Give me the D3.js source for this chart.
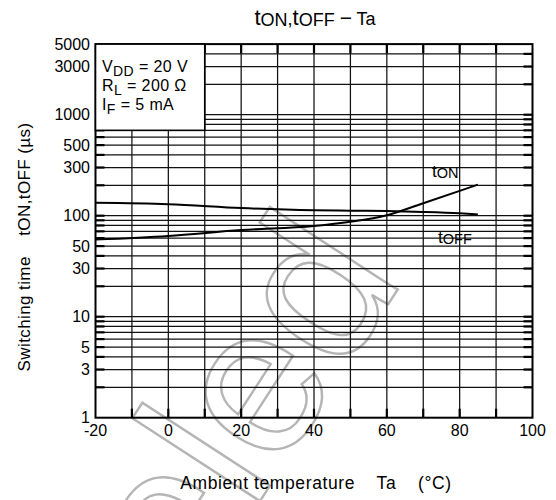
<!DOCTYPE html>
<html>
<head>
<meta charset="utf-8">
<script src="https://cdn.jsdelivr.net/npm/d3@7"></script>
<style>
  html, body { margin: 0; padding: 0; background: #fff; }
  svg { display: block; font-family: "Liberation Sans", Arial, sans-serif; }
</style>
</head>
<body>
<svg id="chart" width="556" height="500"></svg>
<script>
// Ambient temperature (°C) sample points
const temps = [-20, 0, 20, 40, 50, 60, 70, 80, 85];
// Turn-on time t_ON (µs)
const tOn = [58, 63, 72, 79, 87, 101, 133, 176, 203];
// Turn-off time t_OFF (µs)
const tOff = [134, 130, 119, 113, 112, 111, 109, 105.7, 103];

// Axis tick labels
const xTickLabels = [-20, 0, 20, 40, 60, 80, 100];
const yTickLabels = [1, 3, 5, 10, 30, 50, 100, 300, 500, 1000, 3000, 5000];
// Grid: every 10 °C and every 1..9 x decade
const xGrid = [-10, 0, 10, 20, 30, 40, 50, 60, 70, 80, 90];
const yGridMultipliers = [1, 2, 3, 4, 5, 6, 7, 8, 9];
const yDecades = [1, 10, 100, 1000];

// Test conditions shown in the box
const conditions = [
  [["V", ""], ["DD", "sub"], [" = 20 V", ""]],
  [["R", ""], ["L", "sub"], [" = 200 Ω", ""]],
  [["I", ""], ["F", "sub"], [" = 5 mA", ""]]
];

const svg = d3.select("#chart");
svg.append("rect").attr("width", 556).attr("height", 500).attr("fill", "#fff");

const x = d3.scaleLinear().domain([-20, 100]).range([95.5, 532.5]);
const y = d3.scaleLog().domain([1, 5000]).range([417.7, 417.7 - 101 * Math.log10(5000)]);

const x0 = x(-20), x1 = x(100), y0 = y(1), y1 = y(5000);

// background watermark lettering
svg.append("text")
  .attr("transform", "translate(405,278) rotate(-57)")
  .attr("text-anchor", "end")
  .attr("font-size", 210)
  .attr("fill", "none")
  .attr("stroke", "#b5b5b5")
  .attr("stroke-width", 2.4)
  .text("Canceled");

// grid
const grid = svg.append("g").attr("stroke", "#111").attr("stroke-width", 1.25);
const yGrid = [];
yDecades.forEach(d => yGridMultipliers.forEach(m => { const v = d * m; if (v > 1 && v < 5000) yGrid.push(v); }));

grid.selectAll("line.h").data(yGrid).join("line")
  .attr("x1", x0).attr("x2", x1)
  .attr("y1", d => y(d)).attr("y2", d => y(d));
grid.selectAll("line.v").data(xGrid).join("line")
  .attr("x1", d => x(d)).attr("x2", d => x(d))
  .attr("y1", y0).attr("y2", y1);

// inner ticks (heavier stubs at the frame)
const ticks = svg.append("g").attr("stroke", "#000").attr("stroke-width", 2.2);
ticks.selectAll("line.l").data(yGrid).join("line")
  .attr("x1", x0).attr("x2", x0 + 9).attr("y1", d => y(d)).attr("y2", d => y(d));
ticks.selectAll("line.r").data(yGrid).join("line")
  .attr("x1", x1 - 9).attr("x2", x1).attr("y1", d => y(d)).attr("y2", d => y(d));
ticks.selectAll("line.b").data(xGrid).join("line")
  .attr("x1", d => x(d)).attr("x2", d => x(d)).attr("y1", y0).attr("y2", y0 - 9);
ticks.selectAll("line.t").data(xGrid).join("line")
  .attr("x1", d => x(d)).attr("x2", d => x(d)).attr("y1", y1).attr("y2", y1 + 9);

// frame
svg.append("rect")
  .attr("x", x0).attr("y", y1).attr("width", x1 - x0).attr("height", y0 - y1)
  .attr("fill", "none").attr("stroke", "#000").attr("stroke-width", 2);

// conditions box
svg.append("rect")
  .attr("x", x(-20)).attr("y", y(5000))
  .attr("width", x(10) - x(-20)).attr("height", y(700) - y(5000))
  .attr("fill", "#fff").attr("stroke", "#000").attr("stroke-width", 1.6);

function condLine(parts, i) {
  const t = svg.append("text").attr("x", 102).attr("y", 71.5 + i * 19).attr("font-size", 16)
    .attr("letter-spacing", 0.4);
  let shifted = false;
  parts.forEach(([s, kind]) => {
    const sp = t.append("tspan").text(s);
    if (kind === "sub") { sp.attr("font-size", 14).attr("dy", 4); shifted = true; }
    else { sp.attr("font-size", 16); if (shifted) { sp.attr("dy", -4); shifted = false; } }
  });
}
conditions.forEach(condLine);

// curves
const line = d3.line().x(d => x(d[0])).y(d => y(d[1])).curve(d3.curveMonotoneX);
const onPts = temps.map((t, i) => [t, tOn[i]]);
const offPts = temps.map((t, i) => [t, tOff[i]]);
svg.append("path").attr("d", line(offPts)).attr("fill", "none").attr("stroke", "#000").attr("stroke-width", 2);
svg.append("path").attr("d", line(onPts)).attr("fill", "none").attr("stroke", "#000").attr("stroke-width", 2);

// t with subscript label helper
function tLabel(px, py, sub, size) {
  const t = svg.append("text").attr("x", px).attr("y", py);
  t.append("tspan").attr("font-size", size * 1.2).text("t");
  t.append("tspan").attr("font-size", size).attr("dy", 1.5).text(sub);
  return t;
}
tLabel(432, 176.5, "ON", 14.5);
tLabel(438, 242.5, "OFF", 14.5);

// title
const title = svg.append("text").attr("x", 315).attr("y", 25).attr("text-anchor", "middle")
  .attr("xml:space", "preserve");
title.append("tspan").attr("font-size", 22).text("t");
title.append("tspan").attr("font-size", 18).attr("dy", 1).text("ON");
title.append("tspan").attr("font-size", 18).attr("dy", -1).text(",");
title.append("tspan").attr("font-size", 22).text("t");
title.append("tspan").attr("font-size", 18).attr("dy", 1).text("OFF");
title.append("tspan").attr("font-size", 18).attr("dy", -1).text(" ");
title.append("tspan").attr("font-size", 21).text("−");
title.append("tspan").attr("font-size", 18).text(" Ta");

// tick labels
svg.append("g").selectAll("text").data(xTickLabels).join("text")
  .attr("x", d => x(d)).attr("y", 436).attr("text-anchor", "middle").attr("font-size", 16)
  .text(d => d);
svg.append("g").selectAll("text").data(yTickLabels).join("text")
  .attr("x", 90).attr("y", d => y(d)).attr("dy", "0.35em").attr("text-anchor", "end").attr("font-size", 16)
  .text(d => d);

// axis titles
svg.append("text").attr("x", 316).attr("y", 489).attr("text-anchor", "middle").attr("font-size", 17.5)
  .attr("letter-spacing", 0.6)
  .attr("xml:space", "preserve")
  .text("Ambient temperature    Ta    (°C)");
svg.append("text").attr("transform", "translate(30,247) rotate(-90)").attr("text-anchor", "middle").attr("font-size", 17)
  .attr("letter-spacing", 0.4)
  .attr("xml:space", "preserve")
  .text("Switching time    tON,tOFF (µs)");
</script>
</body>
</html>
